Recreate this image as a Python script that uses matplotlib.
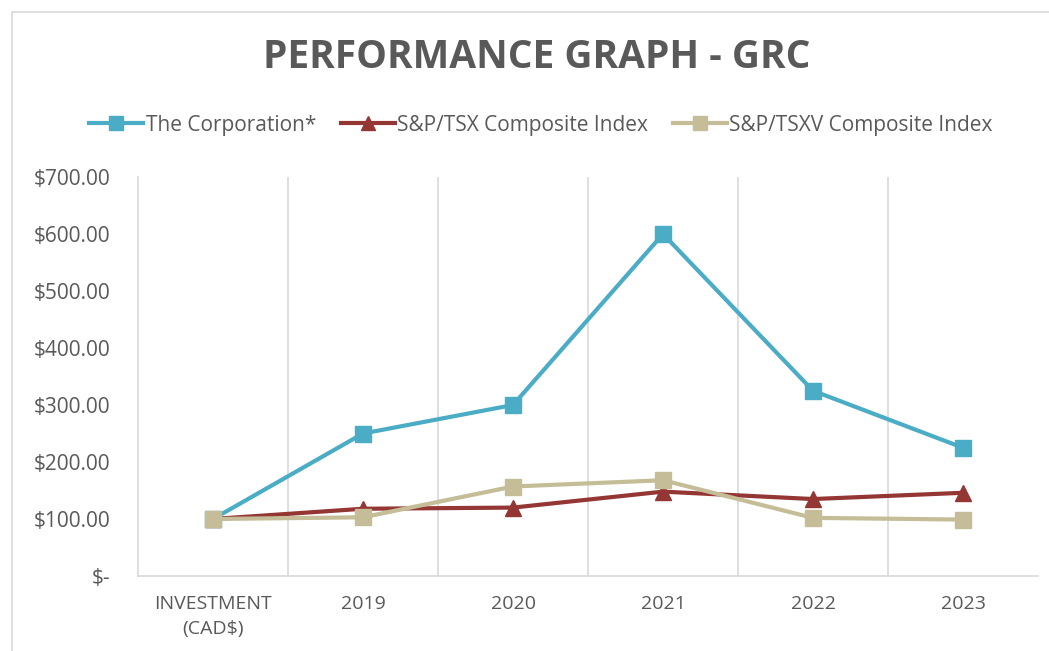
import matplotlib
matplotlib.use("Agg")
import matplotlib.pyplot as plt
from matplotlib.patches import Rectangle

categories = ["INVESTMENT\n(CAD$)", "2019", "2020", "2021", "2022", "2023"]
corporation = [100, 250, 300, 600, 325, 225]
tsx = [100, 118, 120, 148, 135, 146]
tsxv = [100, 103, 157, 168, 102, 99]
yticks = [0, 100, 200, 300, 400, 500, 600, 700]
ytick_labels = ["$-", "$100.00", "$200.00", "$300.00", "$400.00", "$500.00", "$600.00", "$700.00"]

plt.rcParams['font.family'] = ['Open Sans', 'DejaVu Sans']

fig = plt.figure(figsize=(10.49, 6.51), dpi=100)
fig.patches.append(Rectangle((12/1049, -0.01), 1.0, (651-12)/651 + 0.01, transform=fig.transFigure,
                             fill=False, edgecolor="#d9d9d9", linewidth=1.2))

ax = fig.add_axes([138/1049, 75/651, 900/1049, 399/651])
x = list(range(len(categories)))
ax.plot(x, corporation, color="#4BACC6", lw=3, marker="s", ms=12, label="The Corporation*", zorder=3)
ax.plot(x, tsx, color="#943634", lw=3, marker="^", ms=12, label="S&P/TSX Composite Index", zorder=4)
ax.plot(x, tsxv, color="#C4BD97", lw=3, marker="s", ms=12, label="S&P/TSXV Composite Index", zorder=5)

ax.set_xlim(-0.5, len(categories) - 0.5)
ax.set_ylim(0, 700)
ax.set_yticks(yticks)
ax.set_yticklabels(ytick_labels, fontsize=15, color="#595959")
ax.set_xticks(x)
ax.set_xticklabels(categories, fontsize=14, color="#595959", linespacing=1.45)
ax.tick_params(axis="both", length=0)
ax.tick_params(axis="y", pad=20)
ax.tick_params(axis="x", pad=14)
for b in [0.5, 1.5, 2.5, 3.5, 4.5]:
    ax.axvline(b, color="#d9d9d9", lw=1.2, zorder=1)
for s in ["top", "right"]:
    ax.spines[s].set_visible(False)
ax.spines["left"].set_color("#d9d9d9")
ax.spines["bottom"].set_color("#d9d9d9")
ax.spines["left"].set_linewidth(1.2)
ax.spines["bottom"].set_linewidth(1.2)

fig.text(537/1049, 1 - 58/651, "PERFORMANCE GRAPH - GRC", ha="center", va="center",
         fontsize=28, fontweight="bold", color="#595959")

fig.legend(loc="center", bbox_to_anchor=(541/1049, 1 - 125/651), ncol=3, frameon=False,
           fontsize=15, labelcolor="#595959", handlelength=2.6, handletextpad=0.1,
           columnspacing=1.2, markerscale=0.85)

fig.savefig("out.png", dpi=100)
